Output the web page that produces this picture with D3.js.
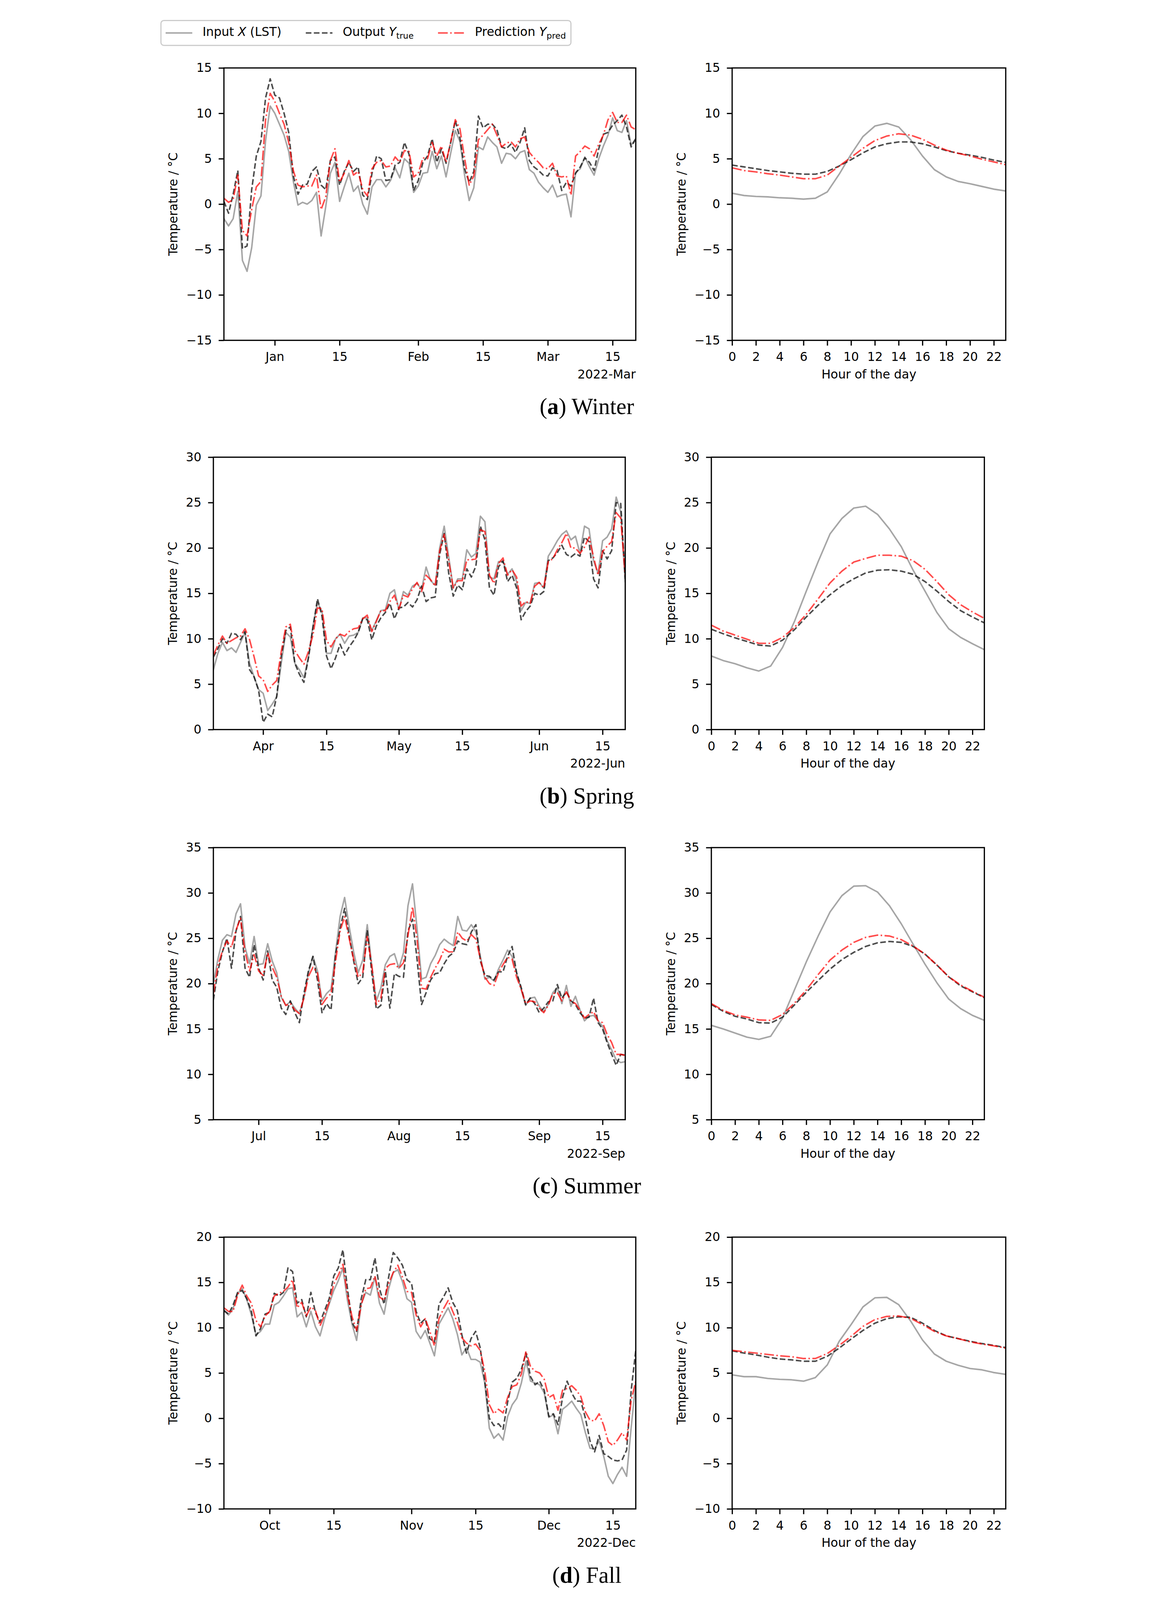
<!DOCTYPE html>
<html>
<head>
<meta charset="utf-8">
<script src="https://cdn.jsdelivr.net/npm/d3@7"></script>
<style>
  html, body { margin: 0; padding: 0; background: #ffffff; overflow: hidden; }
  svg { display: block; }
</style>
</head>
<body>
<svg id="chart" width="3005" height="5463" viewBox="0 0 3005 5463"></svg>
<script>
// ---------------- DATA ----------------
const seriesLabels = ["Input X (LST)", "Output Y_true", "Prediction Y_pred"];
const yLabel = "Temperature / °C";
const hourLabel = "Hour of the day";
const hours = [0,1,2,3,4,5,6,7,8,9,10,11,12,13,14,15,16,17,18,19,20,21,22,23];
const hourTicks = [0,2,4,6,8,10,12,14,16,18,20,22];

// Winter (daily, starting 2021-12-21)
const winterStart = "2021-12-21";
const winterInput = [-1.6,-2.4,-1.6,1.4,-6.2,-7.4,-4.8,-0.1,0.9,7.0,
  10.8,10.0,8.8,7.6,5.8,2.5,-0.1,0.2,0.0,0.4,
  1.3,-3.5,-0.3,3.4,4.6,0.3,1.9,3.4,1.4,2.0,
  0.0,-1.1,1.9,2.7,2.7,1.9,2.6,4.0,2.9,5.0,
  4.5,1.3,2.0,3.4,3.5,5.8,3.9,5.3,3.0,5.6,
  8.1,6.9,3.2,0.4,1.8,6.3,6.0,7.4,6.8,6.3,
  4.5,5.6,5.5,5.0,5.7,5.9,3.8,3.4,2.4,1.8,
  1.3,2.1,0.8,1.0,1.1,-1.4,3.5,3.9,5.2,4.1,
  3.2,5.0,6.4,7.6,9.5,8.1,7.9,9.2,6.5,7.2];
const winterTrue = [0.3,-1.0,1.1,3.7,-4.9,-4.6,1.6,5.3,6.9,11.7,
  13.8,12.0,11.7,10.0,7.9,3.1,1.1,2.1,2.2,3.6,
  4.1,2.1,1.6,4.8,5.2,2.1,3.6,4.6,3.6,4.1,
  1.0,0.5,3.4,5.3,5.0,2.6,2.7,4.3,4.6,6.8,
  5.5,1.5,2.6,4.6,5.3,7.2,4.6,6.1,4.5,6.8,
  9.2,7.3,3.9,2.4,3.6,9.7,8.4,8.8,8.8,8.2,
  6.3,6.1,6.6,5.7,6.8,8.4,4.8,4.1,3.7,3.2,
  3.1,4.0,3.7,1.5,2.4,2.0,3.4,4.1,5.1,4.6,
  3.7,6.1,7.7,7.9,8.7,9.2,9.8,8.5,6.3,7.2];
const winterPred = [0.65,0.2,0.5,3.2,-2.9,-3.5,-0.6,1.9,2.5,9.3,
  12.2,11.3,10.0,8.8,6.8,3.7,2.1,1.9,2.0,2.0,
  3.2,-0.6,0.8,4.8,6.1,2.4,3.4,4.8,3.2,3.6,
  1.6,0.9,3.9,4.6,4.8,4.1,4.2,5.2,4.6,5.9,
  5.8,3.0,3.4,5.1,5.0,6.8,5.3,6.4,4.6,6.8,
  9.3,8.3,5.1,2.1,3.1,7.1,7.6,8.2,8.8,7.6,
  6.3,6.7,6.9,6.3,7.2,7.4,5.7,5.1,4.6,4.0,
  3.9,4.5,3.1,3.0,3.1,1.0,5.3,5.8,6.4,6.1,
  5.3,6.6,7.6,9.3,10.1,9.0,9.0,9.8,8.5,8.2];
const winterTicks = ["2022-01-01","2022-01-15","2022-02-01","2022-02-15","2022-03-01","2022-03-15"];
const winterTickLabels = ["Jan","15","Feb","15","Mar","15"];
const winterOffset = "2022-Mar";
const winterYTicks = [-15,-10,-5,0,5,10,15];
const winterHourInput = [1.2,0.95,0.85,0.8,0.7,0.65,0.55,0.65,1.35,3.3,5.5,7.45,8.6,8.9,8.5,7.1,5.3,3.8,3.0,2.5,2.25,1.95,1.65,1.45];
const winterHourTrue = [4.3,4.1,3.9,3.7,3.55,3.4,3.3,3.3,3.6,4.2,4.9,5.65,6.3,6.65,6.85,6.85,6.65,6.3,5.9,5.6,5.4,5.15,4.85,4.6];
const winterHourPred = [4.0,3.7,3.55,3.35,3.2,3.0,2.8,2.8,3.2,4.2,5.15,6.15,7.0,7.5,7.75,7.6,7.15,6.5,5.95,5.6,5.3,4.95,4.65,4.35];

// Spring (daily, starting 2022-03-21)
const springStart = "2022-03-21";
const springInput = [6.6,8.4,9.6,8.7,9.0,8.5,9.6,10.7,7.3,5.8,
  4.4,4.0,2.1,2.8,3.6,7.3,10.7,10.2,7.3,6.6,
  5.7,7.9,11.4,14.0,13.0,8.4,8.4,10.0,10.5,9.5,
  10.3,10.4,10.7,12.3,12.3,10.9,12.0,13.1,13.2,15.0,
  15.4,13.2,15.2,14.8,15.8,16.1,15.4,17.9,16.4,15.9,
  20.0,22.4,19.0,15.6,16.6,16.6,19.8,19.0,19.4,23.5,
  22.9,16.8,16.6,18.5,18.5,17.1,17.7,16.3,13.1,14.0,
  13.9,16.1,16.2,15.6,19.1,19.9,20.8,21.5,21.9,20.9,
  21.3,19.4,22.4,22.1,18.6,17.2,20.8,21.2,22.1,25.6,
  24.0,16.3];
const springTrue = [8.0,8.9,10.0,9.5,10.6,10.5,9.9,10.8,6.6,5.8,
  4.3,0.8,1.7,1.4,3.7,8.1,10.9,11.3,7.3,6.1,
  5.2,7.9,11.2,14.4,12.5,8.1,6.7,7.9,9.4,8.2,
  9.1,9.8,10.7,12.2,12.1,9.9,11.4,12.3,12.9,13.9,
  12.2,13.4,13.5,14.0,13.5,14.3,15.8,14.1,14.5,14.6,
  19.3,21.6,17.2,14.7,15.9,15.4,17.7,16.8,18.0,22.4,
  20.9,15.6,14.8,17.9,18.6,16.3,17.0,15.6,12.1,13.0,
  13.6,15.0,14.8,15.2,18.6,18.9,19.5,20.3,19.3,19.0,
  19.4,19.1,21.2,20.7,16.6,15.6,19.7,18.8,19.7,25.0,
  24.9,16.6];
const springPred = [8.2,9.3,10.3,9.5,9.8,10.1,10.3,11.1,9.9,8.0,
  5.9,5.5,4.2,4.9,5.4,8.6,11.3,11.6,8.7,7.9,
  7.2,8.6,10.4,13.4,13.3,9.8,9.1,10.0,10.5,10.3,
  10.8,11.1,11.2,12.2,12.6,10.8,11.9,13.1,13.1,14.1,
  14.8,13.3,14.8,14.6,15.5,16.2,15.2,17.0,16.5,15.8,
  19.7,21.5,18.6,15.6,16.4,16.4,18.7,18.7,18.8,22.0,
  21.8,17.0,16.1,18.3,18.9,17.0,17.6,16.8,13.6,14.1,
  13.9,15.8,16.2,15.6,18.5,18.8,19.8,20.6,21.6,20.0,
  20.0,19.4,20.1,21.2,19.0,17.0,19.6,20.2,20.7,23.9,
  23.3,17.0];
const springTicks = ["2022-04-01","2022-04-15","2022-05-01","2022-05-15","2022-06-01","2022-06-15"];
const springTickLabels = ["Apr","15","May","15","Jun","15"];
const springOffset = "2022-Jun";
const springYTicks = [0,5,10,15,20,25,30];
const springHourInput = [8.1,7.6,7.25,6.8,6.45,7.0,9.05,11.9,15.25,18.5,21.55,23.25,24.4,24.6,23.7,22.1,20.15,17.55,15.25,12.9,11.1,10.15,9.45,8.8];
const springHourTrue = [11.05,10.55,10.1,9.7,9.3,9.2,9.85,11.0,12.4,13.7,14.85,15.85,16.6,17.25,17.55,17.6,17.45,17.1,16.3,15.25,14.1,13.1,12.4,11.75];
const springHourPred = [11.5,10.85,10.4,9.95,9.5,9.5,10.15,11.25,12.7,14.4,16.15,17.45,18.45,18.85,19.2,19.2,19.1,18.6,17.65,16.3,14.85,13.75,12.95,12.25];

// Summer (daily, starting 2022-06-21)
const summerStart = "2022-06-21";
const summerInput = [20.0,22.7,24.8,25.4,25.2,27.7,28.8,24.0,22.2,25.2,
  22.1,22.2,24.4,22.5,21.2,18.5,17.6,18.0,17.3,16.7,
  18.4,21.2,23.0,21.4,18.1,18.9,19.4,23.5,27.4,29.5,
  26.3,23.5,21.2,22.6,26.5,22.0,18.1,19.5,22.1,23.0,
  23.3,21.7,23.4,28.6,31.0,26.1,20.5,20.7,22.2,23.1,
  24.3,24.9,24.5,24.2,27.4,25.9,25.8,26.5,25.7,23.0,
  20.5,20.7,20.3,21.6,22.6,23.7,23.0,21.2,19.4,17.6,
  18.4,18.5,17.5,16.9,17.7,19.0,19.6,17.8,19.8,17.5,
  18.6,17.1,15.9,16.4,16.5,15.9,15.3,13.7,12.7,11.6,
  11.3,11.4];
const summerTrue = [18.2,21.4,23.5,25.0,21.7,25.8,27.4,21.7,20.7,24.3,
  21.7,20.4,23.6,20.4,19.6,17.3,16.6,18.1,16.8,15.7,
  18.9,21.4,23.0,20.4,16.8,17.8,17.1,23.2,26.1,28.3,
  25.3,22.5,20.0,20.7,25.9,21.2,17.2,17.6,21.4,17.3,
  21.1,20.8,20.7,25.8,27.1,22.7,17.7,19.0,20.4,21.1,
  21.2,22.2,23.0,23.4,24.7,24.4,24.3,25.7,26.5,22.5,
  20.9,20.8,20.4,21.3,21.3,23.0,24.1,21.2,19.6,17.7,
  18.4,17.8,16.8,17.3,18.0,18.1,19.9,18.4,19.1,18.1,
  17.7,16.8,16.2,16.3,18.4,15.7,15.0,13.5,12.2,11.0,
  12.2,12.1];
const summerPred = [18.9,22.0,23.6,24.7,24.0,25.9,27.2,23.5,21.4,23.2,
  21.4,20.9,23.4,21.8,20.7,18.6,17.6,17.8,17.1,16.7,
  18.4,20.8,21.8,21.2,17.7,18.4,18.9,22.5,25.8,27.4,
  25.0,22.7,20.7,21.2,25.2,22.0,17.7,18.4,21.7,22.1,
  22.2,21.7,22.3,25.3,28.5,24.9,19.5,19.4,20.7,21.7,
  22.6,23.8,23.5,23.5,25.7,25.0,24.7,25.4,24.9,22.7,
  20.7,20.0,19.8,21.2,22.1,22.9,22.7,20.7,19.4,17.8,
  18.1,18.0,17.3,16.8,17.6,18.9,19.0,18.1,19.1,18.1,
  17.8,17.1,16.2,16.6,16.9,15.9,15.7,14.4,13.5,12.2,
  12.2,12.1];
const summerTicks = ["2022-07-01","2022-07-15","2022-08-01","2022-08-15","2022-09-01","2022-09-15"];
const summerTickLabels = ["Jul","15","Aug","15","Sep","15"];
const summerOffset = "2022-Sep";
const summerYTicks = [5,10,15,20,25,30,35];
const summerHourInput = [15.4,15.0,14.55,14.1,13.85,14.2,16.2,19.3,22.4,25.25,27.9,29.7,30.75,30.8,30.1,28.6,26.6,24.35,22.15,20.1,18.3,17.25,16.5,15.95];
const summerHourTrue = [17.7,16.95,16.4,16.1,15.7,15.65,16.3,17.65,19.05,20.35,21.6,22.65,23.45,24.1,24.5,24.65,24.55,24.1,23.25,22.05,20.75,19.75,19.1,18.45];
const summerHourPred = [17.8,17.05,16.55,16.3,16.0,15.95,16.6,17.85,19.3,21.0,22.6,23.7,24.55,25.1,25.35,25.25,24.85,24.15,23.25,22.05,20.75,19.85,19.15,18.5];

// Fall (daily, starting 2022-09-21)
const fallStart = "2022-09-21";
const fallInput = [11.9,11.4,12.1,13.8,14.3,13.1,11.4,9.2,9.6,10.4,
  10.4,12.5,12.8,13.5,14.3,14.4,11.2,11.7,10.1,11.8,
  10.1,9.1,11.0,12.6,14.1,15.2,16.6,13.0,10.4,8.6,
  12.6,13.9,13.6,15.6,12.7,11.5,14.3,16.1,16.4,15.1,
  13.2,12.8,9.6,8.8,9.7,8.3,6.9,10.4,11.3,12.2,
  11.0,9.3,7.0,7.8,6.5,6.5,6.2,3.9,-1.1,-2.2,
  -1.7,-2.4,0.2,1.5,2.2,3.9,6.3,4.1,3.9,3.7,
  2.8,0.1,0.4,-1.7,1.0,1.4,1.9,1.1,0.4,-1.6,
  -3.3,-3.4,-2.5,-4.2,-6.4,-7.2,-6.2,-5.4,-6.4,-1.0,
  4.0];
const fallTrue = [11.9,11.5,12.5,13.9,14.1,13.2,11.8,9.1,9.9,11.5,
  11.7,13.8,13.5,13.9,16.6,16.2,12.7,13.1,11.2,13.9,
  11.7,10.6,11.9,13.2,15.7,16.6,18.6,14.3,10.6,9.6,
  13.2,15.3,15.3,17.7,14.3,12.6,15.6,18.3,17.7,16.9,
  15.3,14.9,11.8,10.5,11.0,8.8,8.4,12.6,13.4,14.4,
  12.8,11.9,9.2,7.2,8.8,9.6,7.8,4.1,0.0,-0.8,
  -0.6,-1.2,1.8,4.0,4.4,5.4,7.2,4.6,3.7,4.1,
  3.1,0.2,0.5,-0.7,2.3,4.1,2.8,1.9,1.9,0.0,
  -2.5,-3.7,-1.9,-3.9,-4.2,-4.6,-4.7,-4.6,-3.5,3.1,
  7.5];
const fallPred = [12.2,11.8,11.8,13.6,14.7,13.5,12.7,10.8,10.1,11.3,
  11.8,13.5,13.8,14.0,14.5,15.3,12.2,12.8,11.3,12.3,
  11.9,10.2,11.4,12.8,14.8,15.8,17.0,13.6,11.2,9.7,
  12.5,14.3,14.4,15.7,13.4,13.0,14.9,16.1,16.9,15.6,
  14.0,13.9,11.4,10.1,11.0,9.6,8.0,11.0,12.1,13.0,
  11.8,10.6,8.9,8.3,8.0,8.2,7.5,5.2,1.5,0.5,
  1.0,0.6,2.3,3.5,3.7,4.9,7.4,5.7,5.2,5.0,
  4.3,2.3,2.6,0.9,3.1,3.3,3.6,3.1,2.4,0.7,
  -0.2,-0.3,0.5,-0.8,-2.6,-3.0,-2.4,-1.6,-2.4,2.0,
  4.1];
const fallTicks = ["2022-10-01","2022-10-15","2022-11-01","2022-11-15","2022-12-01","2022-12-15"];
const fallTickLabels = ["Oct","15","Nov","15","Dec","15"];
const fallOffset = "2022-Dec";
const fallYTicks = [-10,-5,0,5,10,15,20];
const fallHourInput = [4.8,4.6,4.6,4.4,4.3,4.25,4.1,4.5,5.9,8.5,10.35,12.3,13.3,13.35,12.55,10.75,8.65,7.1,6.3,5.85,5.5,5.35,5.05,4.85];
const fallHourTrue = [7.45,7.2,7.0,6.75,6.55,6.45,6.3,6.3,6.85,7.75,8.75,9.7,10.5,11.0,11.2,11.15,10.5,9.7,9.1,8.8,8.5,8.25,8.05,7.8];
const fallHourPred = [7.5,7.35,7.2,7.05,6.9,6.8,6.6,6.6,7.15,8.05,9.05,10.15,10.9,11.25,11.3,11.05,10.35,9.6,9.1,8.8,8.45,8.2,8.0,7.75];

const captionLetters = ["a","b","c","d"];
const captionWords = ["Winter","Spring","Summer","Fall"];

// ---------------- LAYOUT / STYLE ----------------
const FONT = "'DejaVu Sans', sans-serif";
const FS = 41.5;
const TICK = 18, PAD = 23, LW = 5.2, SPINE = 4.2;
const lineStyles = [
  { color: "#808080", dash: null },
  { color: "#000000", dash: "19.2,8.3" },
  { color: "#ff0000", dash: "33.3,8.3,5.2,8.3" }
];
const parseDate = d3.utcParse("%Y-%m-%d");
const fmtNum = v => (v < 0 ? "\u2212" + Math.abs(v) : String(v));

const rows = [
  { start: winterStart, daily: [winterInput, winterTrue, winterPred], hourly: [winterHourInput, winterHourTrue, winterHourPred],
    ticks: winterTicks, tickLabels: winterTickLabels, offset: winterOffset, yTicks: winterYTicks,
    top: 232, bottom: 1162, L: [263, 1669], R: [1998, 2932] },
  { start: springStart, daily: [springInput, springTrue, springPred], hourly: [springHourInput, springHourTrue, springHourPred],
    ticks: springTicks, tickLabels: springTickLabels, offset: springOffset, yTicks: springYTicks,
    top: 1561, bottom: 2491, L: [227, 1633], R: [1927, 2859] },
  { start: summerStart, daily: [summerInput, summerTrue, summerPred], hourly: [summerHourInput, summerHourTrue, summerHourPred],
    ticks: summerTicks, tickLabels: summerTickLabels, offset: summerOffset, yTicks: summerYTicks,
    top: 2894, bottom: 3823, L: [227, 1633], R: [1927, 2859] },
  { start: fallStart, daily: [fallInput, fallTrue, fallPred], hourly: [fallHourInput, fallHourTrue, fallHourPred],
    ticks: fallTicks, tickLabels: fallTickLabels, offset: fallOffset, yTicks: fallYTicks,
    top: 4224, bottom: 5152, L: [263, 1669], R: [1998, 2932] }
];

const svg = d3.select("#chart");
svg.append("rect").attr("width", 3005).attr("height", 5463).attr("fill", "#ffffff");
const defs = svg.append("defs");
let clipN = 0;

function drawPanel(p) {
  const g = svg.append("g");
  const id = "clip" + (clipN++);
  defs.append("clipPath").attr("id", id).append("rect")
    .attr("x", p.x0).attr("y", p.y0).attr("width", p.x1 - p.x0).attr("height", p.y1 - p.y0);

  p.series.forEach((vals, k) => {
    const st = lineStyles[k];
    const line = d3.line().x((d, i) => p.x(p.xv[i])).y(d => p.y(d));
    const path = g.append("path").datum(vals)
      .attr("d", line)
      .attr("clip-path", `url(#${id})`)
      .attr("fill", "none")
      .attr("stroke", st.color)
      .attr("stroke-opacity", 0.7)
      .attr("stroke-width", LW)
      .attr("stroke-linejoin", "round")
      .attr("stroke-linecap", st.dash ? "butt" : "square");
    if (st.dash) path.attr("stroke-dasharray", st.dash);
  });

  g.append("rect").attr("x", p.x0).attr("y", p.y0)
    .attr("width", p.x1 - p.x0).attr("height", p.y1 - p.y0)
    .attr("fill", "none").attr("stroke", "#000").attr("stroke-width", SPINE);

  const xa = d3.axisBottom(p.x).tickValues(p.xTicks).tickFormat(p.xFmt).tickSize(TICK).tickPadding(PAD);
  const gx = g.append("g").attr("transform", `translate(0,${p.y1})`).call(xa);
  const ya = d3.axisLeft(p.y).tickValues(p.yTicks).tickFormat(fmtNum).tickSize(TICK).tickPadding(PAD);
  const gy = g.append("g").attr("transform", `translate(${p.x0},0)`).call(ya);
  [gx, gy].forEach(a => {
    a.attr("font-size", FS).attr("font-family", FONT);
    a.select(".domain").remove();
    a.selectAll(".tick line").attr("stroke", "#000").attr("stroke-width", SPINE);
    a.selectAll(".tick text").attr("fill", "#000");
  });

  let maxW = 0;
  gy.selectAll(".tick text").each(function () { maxW = Math.max(maxW, this.getComputedTextLength()); });
  const xb = p.x0 - TICK - PAD - maxW - 30;
  g.append("text")
    .attr("transform", `translate(${xb},${(p.y0 + p.y1) / 2}) rotate(-90)`)
    .attr("text-anchor", "middle")
    .attr("font-family", FONT).attr("font-size", FS).attr("fill", "#000")
    .text(yLabel);

  if (p.offset) {
    g.append("text").attr("x", p.x1).attr("y", p.y1 + 130)
      .attr("text-anchor", "end")
      .attr("font-family", FONT).attr("font-size", FS).attr("fill", "#000")
      .text(p.offset);
  }
  if (p.xlabel) {
    g.append("text").attr("x", (p.x0 + p.x1) / 2).attr("y", p.y1 + 130)
      .attr("text-anchor", "middle")
      .attr("font-family", FONT).attr("font-size", FS).attr("fill", "#000")
      .text(p.xlabel);
  }
}

rows.forEach((r, ri) => {
  const start = parseDate(r.start);
  const n = r.daily[0].length;
  const dates = r.daily[0].map((v, i) => d3.utcDay.offset(start, i));
  const yDom = [r.yTicks[0], r.yTicks[r.yTicks.length - 1]];

  const xT = d3.scaleUtc().domain([dates[0], dates[n - 1]]).range(r.L);
  const yL = d3.scaleLinear().domain(yDom).range([r.bottom, r.top]);
  const tickDates = r.ticks.map(parseDate);
  drawPanel({
    x0: r.L[0], x1: r.L[1], y0: r.top, y1: r.bottom,
    x: xT, y: yL, xv: dates, series: r.daily,
    xTicks: tickDates, xFmt: (d, i) => r.tickLabels[i],
    yTicks: r.yTicks, offset: r.offset
  });

  const xH = d3.scaleLinear().domain([hours[0], hours[hours.length - 1]]).range(r.R);
  const yR = d3.scaleLinear().domain(yDom).range([r.bottom, r.top]);
  drawPanel({
    x0: r.R[0], x1: r.R[1], y0: r.top, y1: r.bottom,
    x: xH, y: yR, xv: hours, series: r.hourly,
    xTicks: hourTicks, xFmt: d => String(d),
    yTicks: r.yTicks, xlabel: hourLabel
  });

  const cap = svg.append("text")
    .attr("x", 1502).attr("y", r.bottom + 252)
    .attr("text-anchor", "middle")
    .attr("font-family", "'Liberation Serif', 'DejaVu Serif', serif")
    .attr("font-size", 78).attr("fill", "#000");
  cap.append("tspan").text("(");
  cap.append("tspan").attr("font-weight", "bold").text(captionLetters[ri]);
  cap.append("tspan").text(") " + captionWords[ri]);
});

// ---------------- LEGEND ----------------
const leg = svg.append("g");
const legBox = leg.append("rect")
  .attr("x", 48).attr("y", 70).attr("height", 85).attr("rx", 10)
  .attr("fill", "#fff").attr("stroke", "#cccccc").attr("stroke-width", 4);
const legendParts = [
  [{ t: "Input " }, { t: "X", it: true }, { t: " (LST)" }],
  [{ t: "Output " }, { t: "Y", it: true }, { t: "true", sub: true }],
  [{ t: "Prediction " }, { t: "Y", it: true }, { t: "pred", sub: true }]
];
let lx = 64;
const ly = 112.5;
legendParts.forEach((parts, k) => {
  const st = lineStyles[k];
  const hl = leg.append("line").attr("x1", lx).attr("x2", lx + 91).attr("y1", ly).attr("y2", ly)
    .attr("stroke", st.color).attr("stroke-opacity", 0.7).attr("stroke-width", LW);
  if (st.dash) hl.attr("stroke-dasharray", st.dash);
  const tx = leg.append("text").attr("x", lx + 91 + 35).attr("y", 123)
    .attr("font-family", FONT).attr("font-size", FS).attr("fill", "#000");
  parts.forEach(pp => {
    const ts = tx.append("tspan").text(pp.t);
    if (pp.it) ts.attr("font-style", "italic");
    if (pp.sub) ts.attr("font-size", FS * 0.7).attr("dy", 9);
  });
  const w = tx.node().getComputedTextLength();
  lx = lx + 91 + 35 + w + 83;
});
legBox.attr("width", lx - 83 + 17 - 48);

// If the viewport is smaller than the drawing, scale the drawing to fit it.
(function fit() {
  const W = window.innerWidth, H = window.innerHeight;
  if (W > 0 && H > 0 && (W < 3005 || H < 5463)) {
    svg.attr("width", W).attr("height", H).attr("preserveAspectRatio", "xMidYMin meet");
  }
})();
</script>
</body>
</html>
